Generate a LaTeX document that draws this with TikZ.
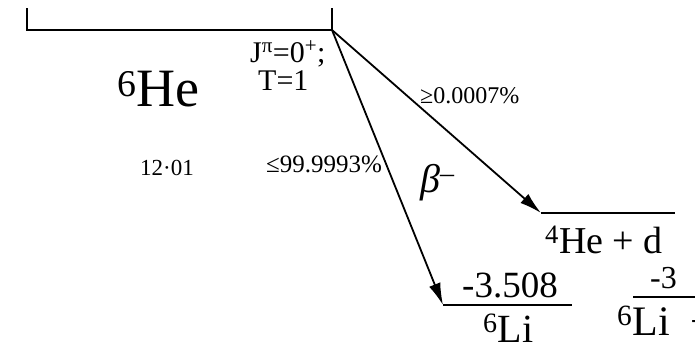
\documentclass[tikz,border=0pt]{standalone}
\usepackage{fontspec}
\setmainfont{Liberation Serif}
\usetikzlibrary{positioning, arrows.meta}

\begin{document}
\begin{tikzpicture}[
    x=1pt, y=-1pt,
    every node/.style={inner sep=0pt, anchor=base west},
    lvl/.style={line width=2.2pt},
    decay/.style={-{Latex[length=22pt, width=12pt]}, line width=1.8pt},
    nucl/.style={font=\fontsize{#1}{#1}\selectfont},
    nucl/.default=38,
    spin/.style={font=\fontsize{30}{30}\selectfont},
    ratio/.style={font=\fontsize{25}{25}\selectfont},
]
\useasboundingbox (0,0) rectangle (695,349);
\clip (0,0) rectangle (695,349);

% ---------- 6He ground state (top) ----------
\coordinate (he6w) at (27,30);
\coordinate (he6) at (332,30);
\draw[lvl] (27,8) -- (he6w) -- (he6) -- (332,8);
\node[nucl=54] (he6name) at (117,106) {\textsuperscript{6}He};
\node[spin] (jpi) at (250,62) {J\textsuperscript{π}=0\textsuperscript{+};};
\node[spin] (iso) at (258,90) {T=1};
\node[font=\fontsize{23}{23}\selectfont] (hl) at (140,175) {12·01};

% ---------- final levels ----------
\coordinate (he4dw) at (541,213);
\coordinate (he4de) at (675,213);
\draw[lvl] (he4dw) -- (he4de);
\node[nucl] (he4dname) at (545,253) {\textsuperscript{4}He + d};

\coordinate (li6w) at (443,305);
\coordinate (li6e) at (572,305);
\draw[lvl] (li6w) -- (li6e);
\node[nucl=37] (li6q) at (462,297) {-3.508};
\node[nucl=40] (li6name) at (483,342) {\textsuperscript{6}Li};

% partly cut off, right edge
\coordinate (li6pw) at (633,297);
\coordinate (li6pe) at (700,297);
\draw[lvl] (li6pw) -- (li6pe);
\node[nucl=32] (li6pq) at (650,288) {-3};
\node[nucl=42] (li6pname) at (617,335) {\textsuperscript{6}Li\hspace{21pt}+};

% ---------- beta decay branches ----------
\draw[decay] (he6) -- (li6w);
\draw[decay] (he6) -- (he4dw);
\node[ratio] (bli6) at (266,172) {≤99.9993\%};
\node[font=\fontsize{24}{24}\selectfont] (bhe4d) at (420,103) {≥0.0007\%};
\node[font=\fontsize{40}{40}\selectfont\itshape] (beta) at (420,192) {β\textsuperscript{–}};

\end{tikzpicture}
\end{document}
